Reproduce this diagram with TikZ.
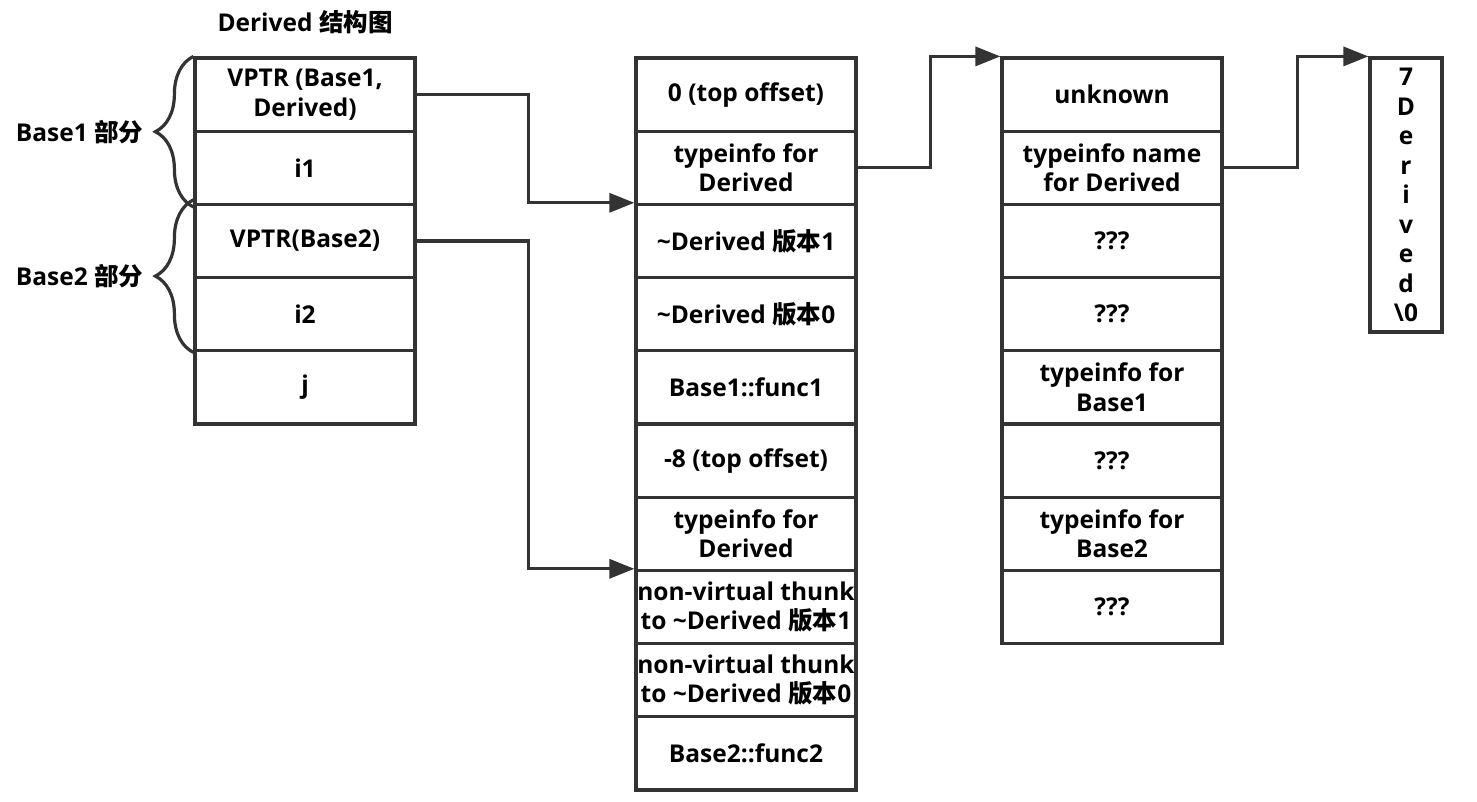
\documentclass[tikz,border=0pt]{standalone}
\usepackage{fontspec}
\setmainfont{Open Sans}
\newfontfamily\cjk{Noto Sans CJK SC}
\usepackage{tikz}
\usetikzlibrary{arrows.meta,decorations.pathreplacing}
\newcommand{\zh}[1]{{\cjk\bfseries #1}}
\newcommand{\tl}{\textasciitilde}

\begin{document}
\begin{tikzpicture}[x=1pt,y=-1pt,
    line/.style={draw=black!80, line width=3.2pt},
    cell/.style={line, minimum width=220pt, minimum height=73.2pt, inner sep=0pt,
      align=center, font=\bfseries\fontsize{24.5}{29.5}\selectfont},
    ptr/.style={line, -{Triangle[length=25pt,width=19pt]}},
    part/.style={line, decorate, decoration={brace, amplitude=38pt}},
    lbl/.style={font=\bfseries\fontsize{24.5}{29.5}\selectfont, inner sep=0pt}]
  \useasboundingbox (0,0) rectangle (1477,802);
  % sizes
  \pgfmathsetmacro{\cellh}{73.2}
  \pgfmathsetmacro{\ytop}{58}
  \pgfmathsetmacro{\colo}{305}
  \pgfmathsetmacro{\colm}{746}
  \pgfmathsetmacro{\colr}{1112}

  % object of Derived
  \node[cell] (o1) at (\colo, {\ytop+0.5*\cellh}) {VPTR (Base1,\\Derived)};
  \node[cell] (o2) at (\colo, {\ytop+1.5*\cellh}) {i1};
  \node[cell] (o3) at (\colo, {\ytop+2.5*\cellh}) {VPTR(Base2)};
  \node[cell] (o4) at (\colo, {\ytop+3.5*\cellh}) {i2};
  \node[cell] (o5) at (\colo, {\ytop+4.5*\cellh}) {j};

  % vtable
  \node[cell] (v1) at (\colm, {\ytop+0.5*\cellh}) {0 (top offset)};
  \node[cell] (v2) at (\colm, {\ytop+1.5*\cellh}) {typeinfo for\\Derived};
  \node[cell] (v3) at (\colm, {\ytop+2.5*\cellh}) {\tl Derived \zh{版本}1};
  \node[cell] (v4) at (\colm, {\ytop+3.5*\cellh}) {\tl Derived \zh{版本}0};
  \node[cell] (v5) at (\colm, {\ytop+4.5*\cellh}) {Base1::func1};
  \node[cell] (v6) at (\colm, {\ytop+5.5*\cellh}) {-8 (top offset)};
  \node[cell] (v7) at (\colm, {\ytop+6.5*\cellh}) {typeinfo for\\Derived};
  \node[cell] (v8) at (\colm, {\ytop+7.5*\cellh}) {non-virtual thunk\\to \tl Derived \zh{版本}1};
  \node[cell] (v9) at (\colm, {\ytop+8.5*\cellh}) {non-virtual thunk\\to \tl Derived \zh{版本}0};
  \node[cell] (v10) at (\colm, {\ytop+9.5*\cellh}) {Base2::func2};

  % typeinfo
  \node[cell] (t1) at (\colr, {\ytop+0.5*\cellh}) {unknown};
  \node[cell] (t2) at (\colr, {\ytop+1.5*\cellh}) {typeinfo name\\for Derived};
  \node[cell] (t3) at (\colr, {\ytop+2.5*\cellh}) {???};
  \node[cell] (t4) at (\colr, {\ytop+3.5*\cellh}) {???};
  \node[cell] (t5) at (\colr, {\ytop+4.5*\cellh}) {typeinfo for\\Base1};
  \node[cell] (t6) at (\colr, {\ytop+5.5*\cellh}) {???};
  \node[cell] (t7) at (\colr, {\ytop+6.5*\cellh}) {typeinfo for\\Base2};
  \node[cell] (t8) at (\colr, {\ytop+7.5*\cellh}) {???};

  % name string
  \node[cell, minimum width=72pt, minimum height=274pt] (s) at (1406, 195)
    {7\\D\\e\\r\\i\\v\\e\\d\\\textbackslash 0};

  % pointers
  \draw[ptr] (o1.east) -- ++(112,0) |- (v3.north west);
  \draw[ptr] (o3.east) -- ++(112,0) |- (v8.north west);
  \draw[ptr] (v2.east) -- ++(73,0) |- (t1.north west);
  \draw[ptr] (t2.east) -- ++(74,0) |- (s.north west);

  % braces
  \draw[part] ([yshift=-1]o2.south west) -- (o1.north west)
    coordinate[pos=0.5] (b1);
  \draw[part] (o4.south west) -- ([yshift=3]o3.north west)
    coordinate[pos=0.5] (b2);

  % labels
  \node[lbl] (title) at (\colo, 22) {Derived \zh{结构图}};
  \node[lbl, anchor=east] (p1) at ([xshift=-50]b1) {Base1 \zh{部分}};
  \node[lbl, anchor=east] (p2) at ([xshift=-50]b2) {Base2 \zh{部分}};
\end{tikzpicture}
\end{document}
